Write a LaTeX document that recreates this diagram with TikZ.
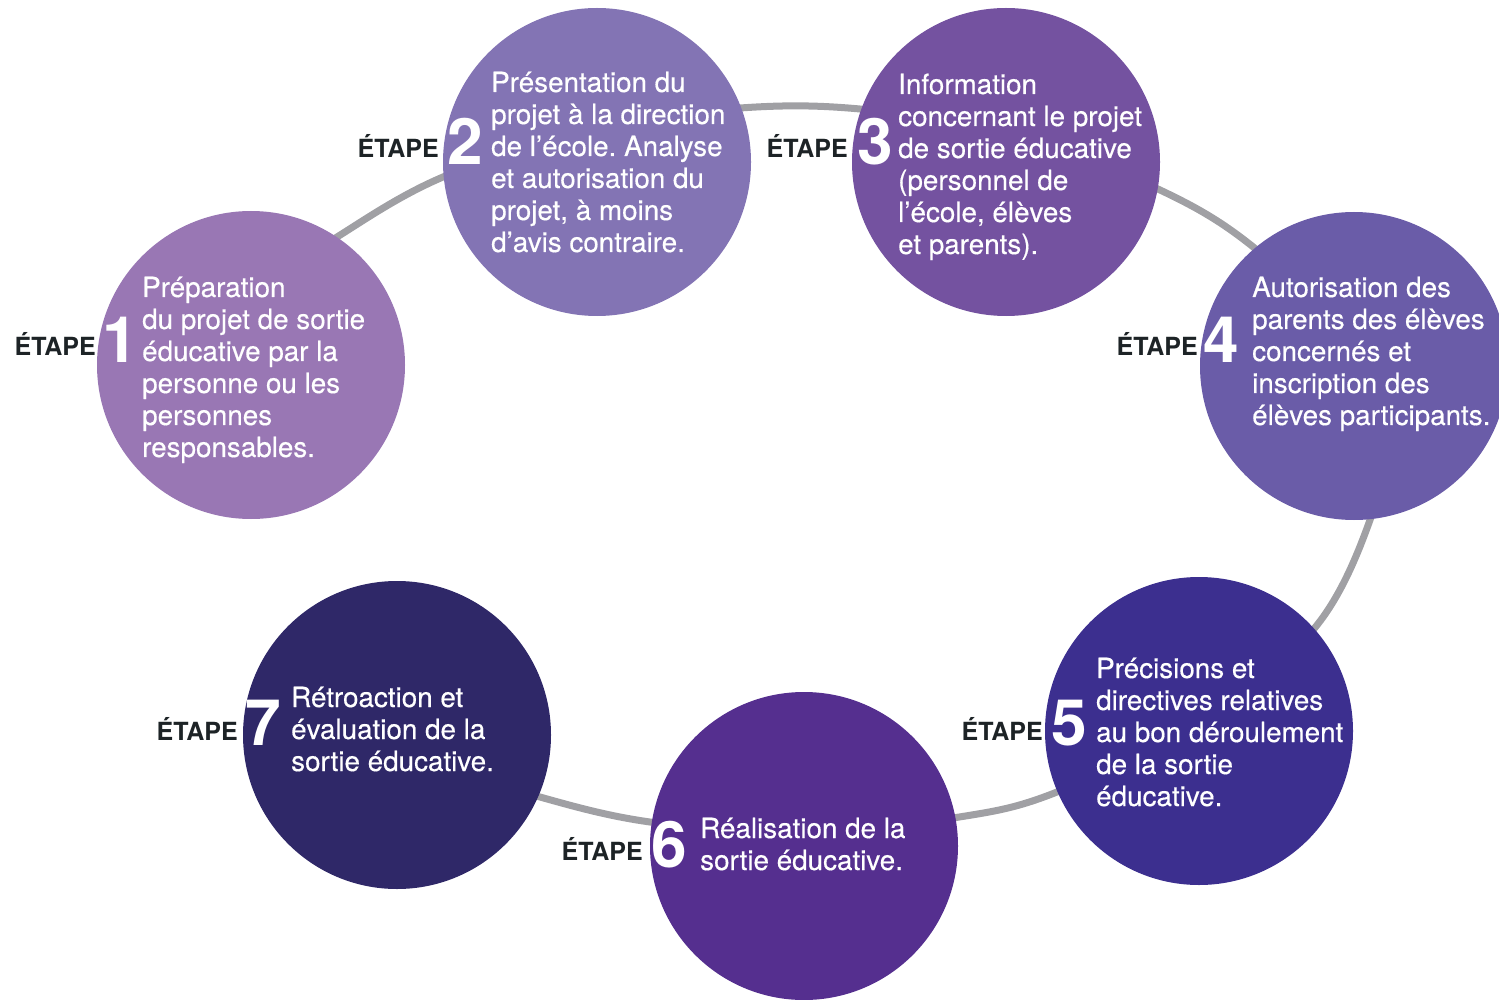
\documentclass[tikz,border=0pt]{standalone}
\usepackage{fontspec}
\setmainfont{TeX Gyre Heros}
\newfontfamily\medfont[FakeBold=0.4]{TeX Gyre Heros}
\frenchspacing
\definecolor{cA}{HTML}{9977B4}
\definecolor{cB}{HTML}{8374B4}
\definecolor{cC}{HTML}{7452A0}
\definecolor{cD}{HTML}{6A5CA8}
\definecolor{cE}{HTML}{3C2F8F}
\definecolor{cF}{HTML}{552F8F}
\definecolor{cG}{HTML}{2F2868}
\definecolor{ringgray}{HTML}{A0A0A4}
\definecolor{etapec}{HTML}{1D2326}
\newcommand\steplines[1]{\begin{tabular}[t]{@{}l@{}}#1\end{tabular}}
\begin{document}
\begin{tikzpicture}[x=1pt,y=-1pt,
  disc/.style={circle, minimum size=308pt, inner sep=0pt, draw=none},
  etapelbl/.style={anchor=base east, inner sep=0pt, text=etapec, font=\fontsize{25}{30}\selectfont\bfseries},
  numlbl/.style={anchor=base, inner sep=0pt, text=white, font=\fontsize{64}{64}\selectfont\bfseries},
  bodytxt/.style={anchor=base west, inner sep=0pt, text=white, font=\medfont\fontsize{27.8}{32}\selectfont},
  ring/.style={draw=ringgray, line width=7pt}]
\useasboundingbox (0,0) rectangle (1499,1000);
% ring
\draw[ring] plot[smooth, tension=0.6] coordinates {
  (470,772) (540,797) (650,822) (800,833) (953,818) (1057,792) (1200,720)
  (1313,630) (1370,520) (1382,440) (1345,340) (1257,250) (1160,190)
  (1006,132) (860,109) (740,108) (597,127) (443,177) (337,237) (290,272)};
% discs
\node[disc, fill=cA] (c1) at (251,365) {};
\node[disc, fill=cB] (c2) at (597,162) {};
\node[disc, fill=cC] (c3) at (1006,162) {};
\node[disc, fill=cD] (c4) at (1354,366) {};
\node[disc, fill=cE] (c5) at (1199,731) {};
\node[disc, fill=cF] (c6) at (804,846) {};
\node[disc, fill=cG] (c7) at (397,735) {};
% step 1
\node[etapelbl] (e1) at (96,355) {ÉTAPE};
\node[numlbl] (n1) at (120,362) {1};
\node[bodytxt] (t1) at (142,297) {\steplines{Préparation\\du projet de sortie\\éducative par la\\personne ou les\\personnes\\responsables.}};
% step 2
\node[etapelbl] (e2) at (439,158) {ÉTAPE};
\node[numlbl] (n2) at (465,165) {2};
\node[bodytxt] (t2) at (491,92) {\steplines{Présentation du\\projet à la direction\\de l’école. Analyse\\et autorisation du\\projet, à moins\\d’avis contraire.}};
% step 3
\node[etapelbl] (e3) at (848,158) {ÉTAPE};
\node[numlbl] (n3) at (875,165) {3};
\node[bodytxt] (t3) at (898,94) {\steplines{Information\\concernant le projet\\de sortie éducative\\(personnel de\\l’école, élèves\\et parents).}};
% step 4
\node[etapelbl] (e4) at (1198,355) {ÉTAPE};
\node[numlbl] (n4) at (1221,362) {4};
\node[bodytxt] (t4) at (1252,297) {\steplines{Autorisation des\\parents des élèves\\concernés et\\inscription des\\élèves participants.}};
% step 5
\node[etapelbl] (e5) at (1043,740) {ÉTAPE};
\node[numlbl] (n5) at (1069,745) {5};
\node[bodytxt] (t5) at (1096,678) {\steplines{Précisions et\\directives relatives\\au bon déroulement\\de la sortie\\éducative.}};
% step 6
\node[etapelbl] (e6) at (643,860) {ÉTAPE};
\node[numlbl] (n6) at (669,867) {6};
\node[bodytxt] (t6) at (700,838) {\steplines{Réalisation de la\\sortie éducative.}};
% step 7
\node[etapelbl] (e7) at (238,740) {ÉTAPE};
\node[numlbl] (n7) at (263,745) {7};
\node[bodytxt] (t7) at (291,707) {\steplines{Rétroaction et\\évaluation de la\\sortie éducative.}};
\end{tikzpicture}
\end{document}
